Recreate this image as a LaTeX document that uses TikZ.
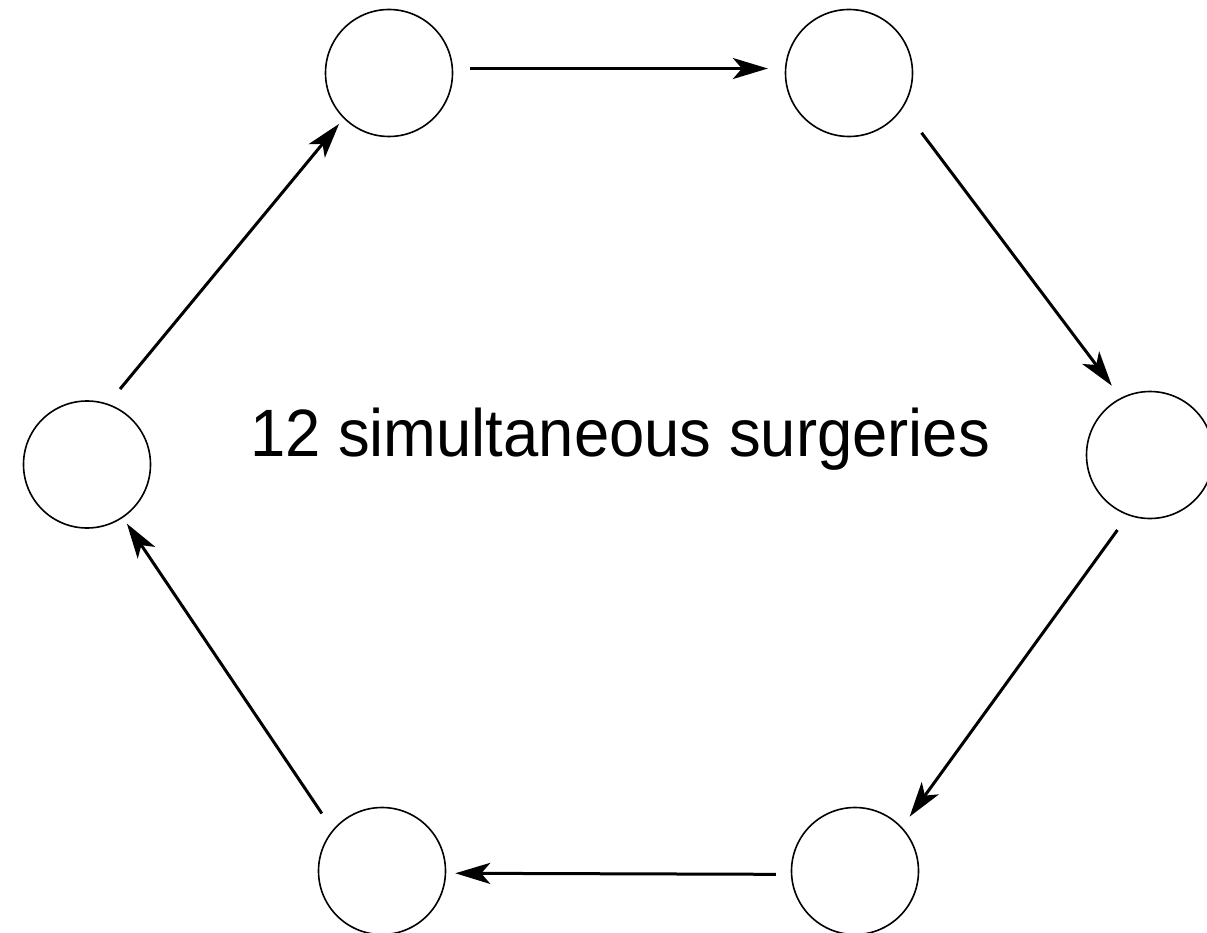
\documentclass[tikz,border=0pt]{standalone}
\usepackage{fontspec}
\setmainfont{Liberation Sans}
\usetikzlibrary{arrows.meta}
\begin{document}
\begin{tikzpicture}[x=1pt,y=-1pt,
  circ/.style={circle,draw,line width=1.6pt,minimum size=127pt,inner sep=0pt},
  flow/.style={line width=3pt,-{Stealth[length=35pt,width=21pt,inset=9pt]}}]
\useasboundingbox (0,0) rectangle (1207,933);
\node[circ] (tl) at (389,73) {};
\node[circ] (tr) at (849,73) {};
\node[circ] (r) at (1150,455) {};
\node[circ] (br) at (855,871) {};
\node[circ] (bl) at (382,871) {};
\node[circ] (l) at (87,464.5) {};
\node[anchor=base,inner sep=0pt,font=\fontsize{67}{80}\selectfont] (lbl) at (620,456) {\scalebox{0.946}[1]{12 simultaneous surgeries}};
\draw[flow,shorten <=17pt,shorten >=17pt] (tl.4) -- (tr.176);
\draw[flow,shorten <=31pt,shorten >=15pt] (tr.-33) -- (r.117);
\draw[flow,shorten <=18pt,shorten >=13pt] (r.-110.6) -- (br.43);
\draw[flow,shorten <=15pt,shorten >=9pt] (br.-177.8) -- (bl.-2.4);
\draw[flow,shorten <=19.5pt,shorten >=7pt] (bl.140.8) -- (l.-56);
\draw[flow,shorten <=19pt,shorten >=7pt] (l.71.9) -- (tl.-135.6);
\end{tikzpicture}
\end{document}
